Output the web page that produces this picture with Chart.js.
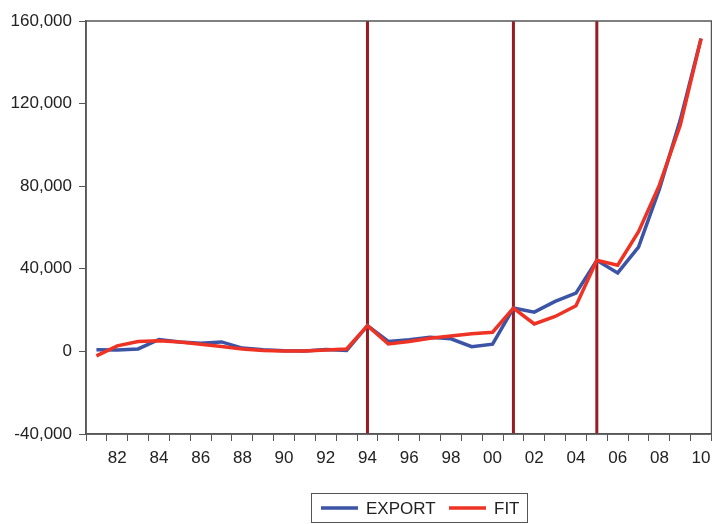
<!DOCTYPE html>
<html>
<head>
<meta charset="utf-8">
<script src="https://cdn.jsdelivr.net/npm/chart.js@4/dist/chart.umd.min.js"></script>
<style>
html,body{margin:0;padding:0;background:#fff;}
#wrap{width:712px;height:524px;position:relative;}
</style>
</head>
<body>
<div id="wrap"><canvas id="c" width="712" height="524"></canvas></div>
<script>
const years = [1981,1982,1983,1984,1985,1986,1987,1988,1989,1990,1991,1992,1993,1994,1995,1996,1997,1998,1999,2000,2001,2002,2003,2004,2005,2006,2007,2008,2009,2010];
const exportValues = [800,700,1200,5800,4600,4000,4600,1600,800,300,200,900,500,12500,4800,5600,6900,6100,2300,3500,21000,19000,24200,28200,44100,38000,50500,78600,112000,151500];
const fitValues = [-2200,2700,4800,5200,4500,3500,2400,1200,400,200,200,700,1200,12500,3600,4800,6400,7500,8500,9300,21000,13300,16900,22100,44100,41700,58000,80500,109500,151500];
const breakYears = [1994,2001,2005];
const yTicks = [-40000,0,40000,80000,120000,160000];
const seriesNames = ['EXPORT','FIT'];

const BLUE = '#3b54a5';
const RED = '#ee3224';
const FONT = "'Liberation Sans', Arial, sans-serif";

const framePlugin = {
  id: 'frame',
  beforeDatasetsDraw(chart) {
    const {ctx, chartArea: a, scales: {x}} = chart;
    ctx.save();
    ctx.strokeStyle = '#9b1c20';
    ctx.lineWidth = 3;
    breakYears.forEach(y => {
      const px = x.getPixelForValue(years.indexOf(y));
      ctx.beginPath();
      ctx.moveTo(px, a.top);
      ctx.lineTo(px, a.bottom);
      ctx.stroke();
    });
    ctx.restore();
  },
  afterDraw(chart) {
    const {ctx, chartArea: a} = chart;
    ctx.save();
    ctx.strokeStyle = '#555';
    ctx.lineWidth = 1.5;
    ctx.strokeRect(a.left, a.top, a.right - a.left, a.bottom - a.top);
    // legend
    const bx = 311.5, by = 493.5, bw = 216, bh = 29;
    ctx.lineWidth = 1;
    ctx.strokeStyle = '#555';
    ctx.strokeRect(bx, by, bw, bh);
    const cy = by + bh / 2;
    ctx.font = '17px ' + FONT;
    ctx.fillStyle = '#222';
    ctx.textBaseline = 'middle';
    ctx.lineWidth = 3.5;
    ctx.strokeStyle = BLUE;
    ctx.beginPath(); ctx.moveTo(321, cy); ctx.lineTo(358, cy); ctx.stroke();
    ctx.fillText(seriesNames[0], 366, cy + 1);
    ctx.strokeStyle = RED;
    ctx.beginPath(); ctx.moveTo(449, cy); ctx.lineTo(486, cy); ctx.stroke();
    ctx.fillText(seriesNames[1], 494, cy + 1);
    ctx.restore();
  }
};

new Chart(document.getElementById('c'), {
  type: 'line',
  data: {
    labels: years.map(String),
    datasets: [
      {label: seriesNames[0], data: exportValues, borderColor: BLUE, backgroundColor: BLUE, borderWidth: 3.5, pointRadius: 0, tension: 0, order: 1},
      {label: seriesNames[1], data: fitValues, borderColor: RED, backgroundColor: RED, borderWidth: 3.5, pointRadius: 0, tension: 0, order: 0}
    ]
  },
  options: {
    responsive: false,
    animation: false,
    devicePixelRatio: 1,
    layout: {padding: {top: 21, right: 0.5, left: 0, bottom: 0}},
    plugins: {legend: {display: false}, tooltip: {enabled: false}},
    scales: {
      x: {
        type: 'category',
        offset: true,
        afterFit(s) { s.height = 90; s.paddingRight = 0; s.paddingLeft = 0; },
        grid: {offset: true, drawOnChartArea: false, drawTicks: true, tickLength: 7, color: '#555', lineWidth: 1},
        border: {display: true, color: '#555', width: 1.5},
        ticks: {
          autoSkip: false, maxRotation: 0, padding: 7,
          color: '#222', font: {family: FONT, size: 17},
          callback(v, i) { const y = years[i]; return y % 2 === 0 ? String(y).slice(2) : ''; }
        }
      },
      y: {
        min: -40000, max: 160000,
        afterFit(s) { s.width = 86; },
        afterBuildTicks(s) { s.ticks = yTicks.map(v => ({value: v})); },
        grid: {drawOnChartArea: false, drawTicks: true, tickLength: 7, color: '#555', lineWidth: 1},
        border: {display: true, color: '#555', width: 1.5},
        ticks: {
          padding: 7, color: '#222', font: {family: FONT, size: 17},
          callback(v) { return Number(v).toLocaleString('en-US'); }
        }
      }
    }
  },
  plugins: [framePlugin]
});
</script>
</body>
</html>
